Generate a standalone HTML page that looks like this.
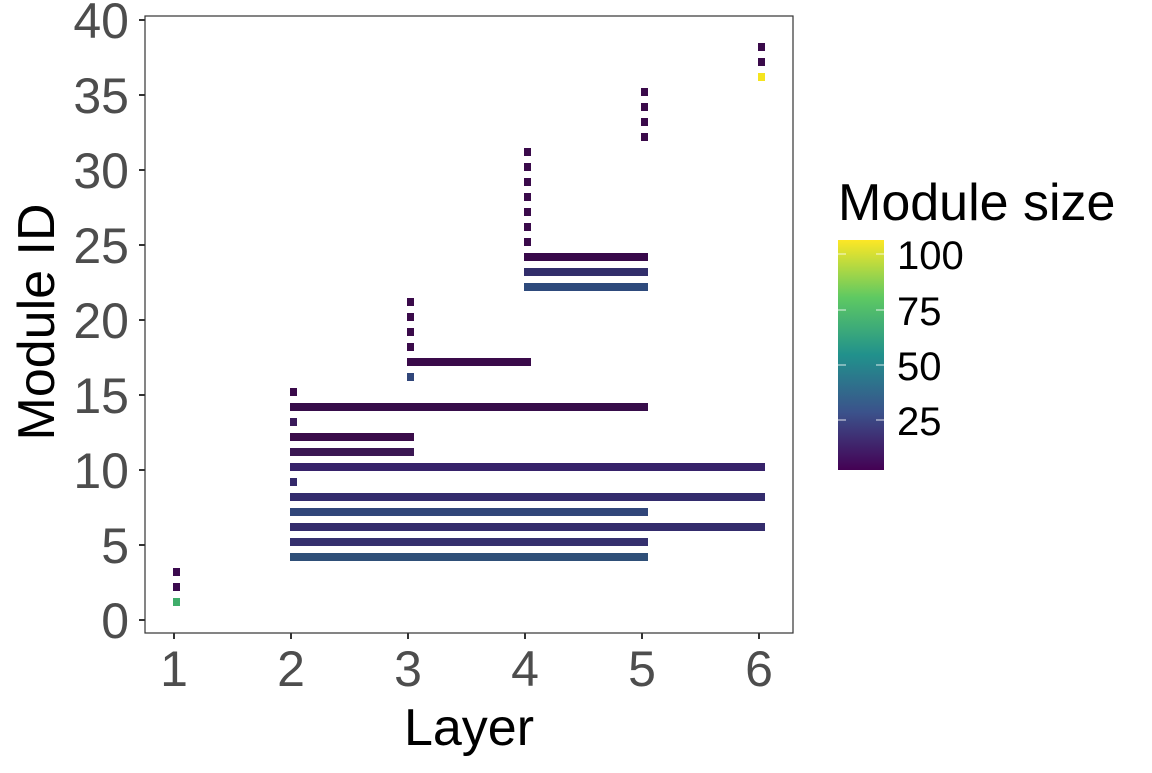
<!DOCTYPE html>
<html><head><style>body{margin:0;background:#fff}</style></head><body>
<svg width="1152" height="768" xmlns="http://www.w3.org/2000/svg" font-family="Liberation Sans, sans-serif">
<defs><linearGradient id="v" x1="0" y1="1" x2="0" y2="0">
<stop offset="0" stop-color="#440154"/><stop offset="0.25" stop-color="#3b528b"/><stop offset="0.5" stop-color="#21918c"/><stop offset="0.75" stop-color="#5ec962"/><stop offset="1" stop-color="#fde725"/></linearGradient></defs>
<rect x="145" y="16" width="648" height="617" fill="#fff" stroke="#333" stroke-width="1.2"/>
<g id="bars"></g>
<g stroke="#333" stroke-width="2">
<line x1="139" y1="620" x2="145" y2="620"/><line x1="139" y1="545" x2="145" y2="545"/><line x1="139" y1="470" x2="145" y2="470"/><line x1="139" y1="395" x2="145" y2="395"/><line x1="139" y1="320" x2="145" y2="320"/><line x1="139" y1="245" x2="145" y2="245"/><line x1="139" y1="170" x2="145" y2="170"/><line x1="139" y1="95" x2="145" y2="95"/><line x1="139" y1="20" x2="145" y2="20"/>
<line x1="174" y1="633" x2="174" y2="639"/><line x1="291" y1="633" x2="291" y2="639"/><line x1="408" y1="633" x2="408" y2="639"/><line x1="525" y1="633" x2="525" y2="639"/><line x1="642" y1="633" x2="642" y2="639"/><line x1="759" y1="633" x2="759" y2="639"/>
</g>
<g font-size="50" fill="#4d4d4d" text-anchor="end">
<text x="129" y="638">0</text><text x="129" y="563">5</text><text x="129" y="488">10</text><text x="129" y="413">15</text><text x="129" y="338">20</text><text x="129" y="263">25</text><text x="129" y="188">30</text><text x="129" y="113">35</text><text x="129" y="38">40</text>
</g>
<g font-size="50" fill="#4d4d4d" text-anchor="middle">
<text x="174" y="686">1</text><text x="291" y="686">2</text><text x="408" y="686">3</text><text x="525" y="686">4</text><text x="642" y="686">5</text><text x="759" y="686">6</text>
</g>
<text x="469" y="745" font-size="52" text-anchor="middle">Layer</text>
<text transform="translate(54,322) rotate(-90)" font-size="52" text-anchor="middle">Module ID</text>
<text x="838" y="220" font-size="52">Module size</text>
<rect x="838" y="240" width="46" height="230" fill="url(#v)"/>
<g stroke="#fff" stroke-opacity="0.7" stroke-width="1.2">
<line x1="838" y1="254" x2="846" y2="254"/><line x1="876" y1="254" x2="884" y2="254"/>
<line x1="838" y1="310" x2="846" y2="310"/><line x1="876" y1="310" x2="884" y2="310"/>
<line x1="838" y1="365" x2="846" y2="365"/><line x1="876" y1="365" x2="884" y2="365"/>
<line x1="838" y1="420" x2="846" y2="420"/><line x1="876" y1="420" x2="884" y2="420"/>
</g>
<g font-size="40" fill="#000">
<text x="897" y="269">100</text><text x="897" y="325">75</text><text x="897" y="380">50</text><text x="897" y="435">25</text>
</g>
</svg>
<script>
var D=[[1,1,1,'#3fad6a'],[2,1,1,'#3b0a4e'],[3,1,1,'#3b0a4e'],
[4,2,5,'#2f4f78'],[5,2,5,'#35306e'],[6,2,6,'#342c6c'],[7,2,5,'#31467a'],[8,2,6,'#332c6d'],[9,2,2,'#34296a'],[10,2,6,'#37226a'],[11,2,3,'#3b1753'],[12,2,3,'#3a0c4a'],[13,2,2,'#3a1a5a'],[14,2,5,'#370d4a'],[15,2,2,'#3a0a4a'],
[16,3,3,'#31467a'],[17,3,4,'#3a0a4a'],[18,3,3,'#3a0a4a'],[19,3,3,'#3a0a4a'],[20,3,3,'#3a0a4a'],[21,3,3,'#3a0a4a'],
[22,4,5,'#2e4a7c'],[23,4,5,'#322e6b'],[24,4,5,'#38094a']];
for(var i=25;i<=31;i++)D.push([i,4,4,'#3a0a4a']);
for(var i=32;i<=35;i++)D.push([i,5,5,'#3a0a4a']);
D.push([36,6,6,'#f5e41e'],[37,6,6,'#3a0a4a'],[38,6,6,'#3a0a4a']);
var g=document.getElementById('bars'),s='';
D.forEach(function(d){var x0=174+(d[1]-1)*117-1,x1=174+(d[2]-1)*117+6;
s+='<rect x="'+x0+'" y="'+(613-15*d[0])+'" width="'+(x1-x0)+'" height="8" fill="'+d[3]+'"/>';});
g.innerHTML=s;
</script>
</body></html>
